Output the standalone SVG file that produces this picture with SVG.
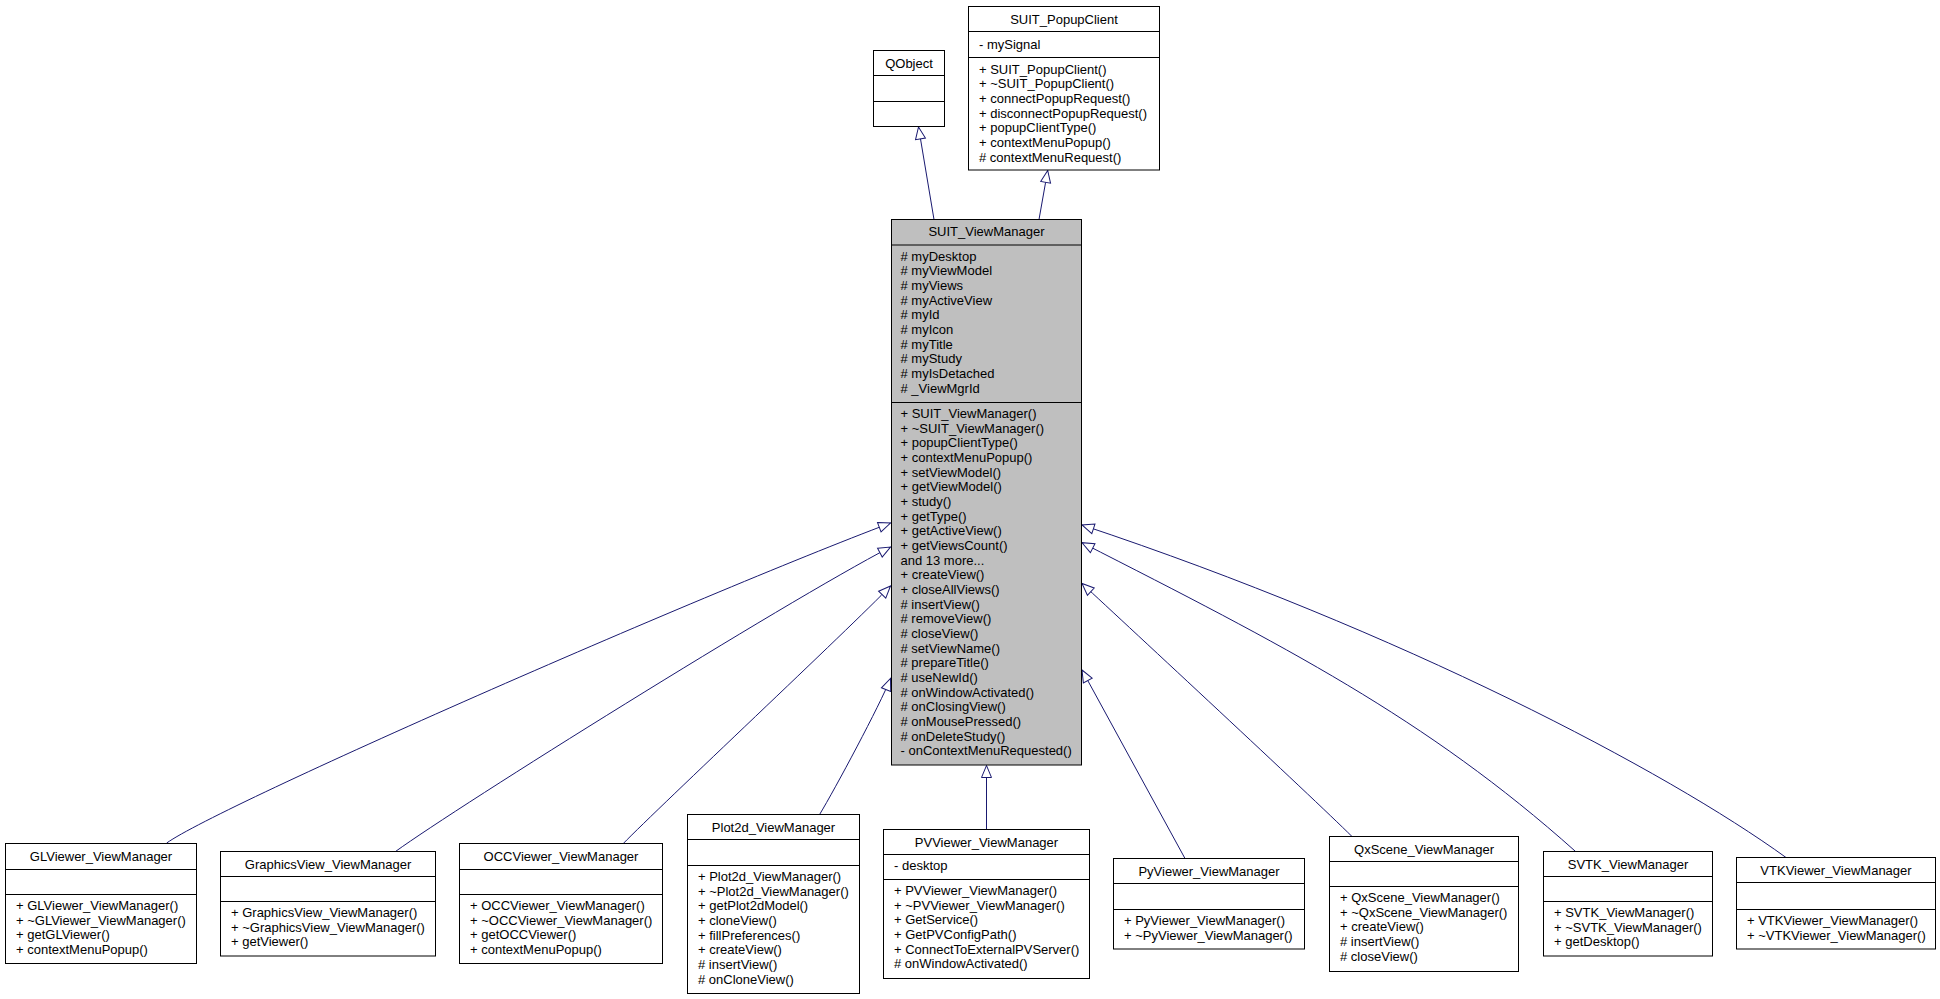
<svg xmlns="http://www.w3.org/2000/svg" width="1940" height="999" viewBox="0 0 1940 999">
<style>
rect.b{fill:#fff;stroke:#000;stroke-width:1}
rect.g{fill:#bfbfbf;stroke:#000;stroke-width:1}
line.d{stroke:#000;stroke-width:1}
text{font-family:"Liberation Sans",Arial,sans-serif;font-size:13px;fill:#000}
text.t{text-anchor:middle}
path.e{fill:none;stroke:#191970;stroke-width:1;marker-end:url(#inh)}
</style>
<defs>
<marker id="inh" markerUnits="userSpaceOnUse" viewBox="0 0 14 12" markerWidth="14" markerHeight="12" refX="12.5" refY="5.5" orient="auto" overflow="visible">
<path d="M0.5,0.5 L12.5,5.5 L0.5,10.5 Z" fill="#fff" stroke="#191970" stroke-width="1"/>
</marker>
</defs>
<g id="connectors">
<path class="e" d="M166.7,843 C220,805 700,595 890.5,523"/>
<path class="e" d="M395.5,851.5 C460,805 780,605 890.5,547"/>
<path class="e" d="M623.3,843.5 C660,806 850,628 890.5,586"/>
<path class="e" d="M819.6,814.5 C835,789 880,705 890.5,678.5"/>
<path class="e" d="M986.5,829.5 L986.5,765.5"/>
<path class="e" d="M1185,858.5 L1082,670"/>
<path class="e" d="M1352,836.5 C1310,795 1130,628 1082,583.5"/>
<path class="e" d="M1575.6,851.5 C1425.6,717.5 1282,644.7 1082,542.7"/>
<path class="e" d="M1786,857.5 C1666,770.7 1402,631.6 1082,525"/>
<path class="e" d="M934,219.5 L918.5,127"/>
<path class="e" d="M1039,219.5 L1047.7,170.5"/>
</g>
<g id="QObject">
<rect class="b" x="873.5" y="50.5" width="71" height="76"/>
<line class="d" x1="873.5" y1="75.5" x2="944.5" y2="75.5"/>
<line class="d" x1="873.5" y1="101.5" x2="944.5" y2="101.5"/>
<text class="t" x="909" y="67.5">QObject</text>
</g>
<g id="SUIT_PopupClient">
<rect class="b" x="968.5" y="6.5" width="191" height="163.5"/>
<line class="d" x1="968.5" y1="31.5" x2="1159.5" y2="31.5"/>
<line class="d" x1="968.5" y1="57.5" x2="1159.5" y2="57.5"/>
<text class="t" x="1064" y="23.5">SUIT_PopupClient</text>
<text x="979" y="49">- mySignal</text>
<text x="979" y="73.5">+ SUIT_PopupClient()</text>
<text x="979" y="88.2">+ ~SUIT_PopupClient()</text>
<text x="979" y="102.8">+ connectPopupRequest()</text>
<text x="979" y="117.5">+ disconnectPopupRequest()</text>
<text x="979" y="132.2">+ popupClientType()</text>
<text x="979" y="146.8">+ contextMenuPopup()</text>
<text x="979" y="161.5"># contextMenuRequest()</text>
</g>
<g id="SUIT_ViewManager">
<rect class="g" x="891.5" y="219.5" width="190" height="545.5"/>
<line class="d" x1="891.5" y1="245" x2="1081.5" y2="245"/>
<line class="d" x1="891.5" y1="402.5" x2="1081.5" y2="402.5"/>
<text class="t" x="986.5" y="236">SUIT_ViewManager</text>
<text x="900.5" y="260.5"># myDesktop</text>
<text x="900.5" y="275.2"># myViewModel</text>
<text x="900.5" y="289.8"># myViews</text>
<text x="900.5" y="304.5"># myActiveView</text>
<text x="900.5" y="319.2"># myId</text>
<text x="900.5" y="333.8"># myIcon</text>
<text x="900.5" y="348.5"># myTitle</text>
<text x="900.5" y="363.2"># myStudy</text>
<text x="900.5" y="377.8"># myIsDetached</text>
<text x="900.5" y="392.5"># _ViewMgrId</text>
<text x="900.5" y="418">+ SUIT_ViewManager()</text>
<text x="900.5" y="432.7">+ ~SUIT_ViewManager()</text>
<text x="900.5" y="447.3">+ popupClientType()</text>
<text x="900.5" y="462">+ contextMenuPopup()</text>
<text x="900.5" y="476.7">+ setViewModel()</text>
<text x="900.5" y="491.3">+ getViewModel()</text>
<text x="900.5" y="506">+ study()</text>
<text x="900.5" y="520.7">+ getType()</text>
<text x="900.5" y="535.3">+ getActiveView()</text>
<text x="900.5" y="550">+ getViewsCount()</text>
<text x="900.5" y="564.7">and 13 more...</text>
<text x="900.5" y="579.3">+ createView()</text>
<text x="900.5" y="594">+ closeAllViews()</text>
<text x="900.5" y="608.7"># insertView()</text>
<text x="900.5" y="623.3"># removeView()</text>
<text x="900.5" y="638"># closeView()</text>
<text x="900.5" y="652.7"># setViewName()</text>
<text x="900.5" y="667.3"># prepareTitle()</text>
<text x="900.5" y="682"># useNewId()</text>
<text x="900.5" y="696.7"># onWindowActivated()</text>
<text x="900.5" y="711.3"># onClosingView()</text>
<text x="900.5" y="726"># onMousePressed()</text>
<text x="900.5" y="740.7"># onDeleteStudy()</text>
<text x="900.5" y="755.3">- onContextMenuRequested()</text>
</g>
<g id="GLViewer_ViewManager">
<rect class="b" x="5.5" y="843.5" width="191" height="120"/>
<line class="d" x1="5.5" y1="869.5" x2="196.5" y2="869.5"/>
<line class="d" x1="5.5" y1="894.5" x2="196.5" y2="894.5"/>
<text class="t" x="101" y="860.5">GLViewer_ViewManager</text>
<text x="16" y="910">+ GLViewer_ViewManager()</text>
<text x="16" y="924.7">+ ~GLViewer_ViewManager()</text>
<text x="16" y="939.3">+ getGLViewer()</text>
<text x="16" y="954">+ contextMenuPopup()</text>
</g>
<g id="GraphicsView_ViewManager">
<rect class="b" x="220.5" y="851.5" width="215" height="104.5"/>
<line class="d" x1="220.5" y1="876.5" x2="435.5" y2="876.5"/>
<line class="d" x1="220.5" y1="901.5" x2="435.5" y2="901.5"/>
<text class="t" x="328" y="868.5">GraphicsView_ViewManager</text>
<text x="231" y="917">+ GraphicsView_ViewManager()</text>
<text x="231" y="931.7">+ ~GraphicsView_ViewManager()</text>
<text x="231" y="946.3">+ getViewer()</text>
</g>
<g id="OCCViewer_ViewManager">
<rect class="b" x="459.5" y="843.5" width="203" height="120"/>
<line class="d" x1="459.5" y1="869.5" x2="662.5" y2="869.5"/>
<line class="d" x1="459.5" y1="894.5" x2="662.5" y2="894.5"/>
<text class="t" x="561" y="860.5">OCCViewer_ViewManager</text>
<text x="470" y="910">+ OCCViewer_ViewManager()</text>
<text x="470" y="924.7">+ ~OCCViewer_ViewManager()</text>
<text x="470" y="939.3">+ getOCCViewer()</text>
<text x="470" y="954">+ contextMenuPopup()</text>
</g>
<g id="Plot2d_ViewManager">
<rect class="b" x="687.5" y="814.5" width="172" height="179"/>
<line class="d" x1="687.5" y1="839.5" x2="859.5" y2="839.5"/>
<line class="d" x1="687.5" y1="865.5" x2="859.5" y2="865.5"/>
<text class="t" x="773.5" y="831.5">Plot2d_ViewManager</text>
<text x="698" y="881">+ Plot2d_ViewManager()</text>
<text x="698" y="895.7">+ ~Plot2d_ViewManager()</text>
<text x="698" y="910.3">+ getPlot2dModel()</text>
<text x="698" y="925">+ cloneView()</text>
<text x="698" y="939.7">+ fillPreferences()</text>
<text x="698" y="954.3">+ createView()</text>
<text x="698" y="969"># insertView()</text>
<text x="698" y="983.7"># onCloneView()</text>
</g>
<g id="PVViewer_ViewManager">
<rect class="b" x="883.5" y="829.5" width="206" height="149"/>
<line class="d" x1="883.5" y1="854.5" x2="1089.5" y2="854.5"/>
<line class="d" x1="883.5" y1="879.5" x2="1089.5" y2="879.5"/>
<text class="t" x="986.5" y="846.5">PVViewer_ViewManager</text>
<text x="894" y="870">- desktop</text>
<text x="894" y="895">+ PVViewer_ViewManager()</text>
<text x="894" y="909.7">+ ~PVViewer_ViewManager()</text>
<text x="894" y="924.3">+ GetService()</text>
<text x="894" y="939">+ GetPVConfigPath()</text>
<text x="894" y="953.7">+ ConnectToExternalPVServer()</text>
<text x="894" y="968.3"># onWindowActivated()</text>
</g>
<g id="PyViewer_ViewManager">
<rect class="b" x="1113.5" y="858.5" width="191" height="90.5"/>
<line class="d" x1="1113.5" y1="883.5" x2="1304.5" y2="883.5"/>
<line class="d" x1="1113.5" y1="909.5" x2="1304.5" y2="909.5"/>
<text class="t" x="1209" y="875.5">PyViewer_ViewManager</text>
<text x="1124" y="925">+ PyViewer_ViewManager()</text>
<text x="1124" y="939.7">+ ~PyViewer_ViewManager()</text>
</g>
<g id="QxScene_ViewManager">
<rect class="b" x="1329.5" y="836.5" width="189" height="135"/>
<line class="d" x1="1329.5" y1="861.5" x2="1518.5" y2="861.5"/>
<line class="d" x1="1329.5" y1="886.5" x2="1518.5" y2="886.5"/>
<text class="t" x="1424" y="853.5">QxScene_ViewManager</text>
<text x="1340" y="902">+ QxScene_ViewManager()</text>
<text x="1340" y="916.7">+ ~QxScene_ViewManager()</text>
<text x="1340" y="931.3">+ createView()</text>
<text x="1340" y="946"># insertView()</text>
<text x="1340" y="960.7"># closeView()</text>
</g>
<g id="SVTK_ViewManager">
<rect class="b" x="1543.5" y="851.5" width="169" height="104.5"/>
<line class="d" x1="1543.5" y1="876.5" x2="1712.5" y2="876.5"/>
<line class="d" x1="1543.5" y1="901.5" x2="1712.5" y2="901.5"/>
<text class="t" x="1628" y="868.5">SVTK_ViewManager</text>
<text x="1554" y="917">+ SVTK_ViewManager()</text>
<text x="1554" y="931.7">+ ~SVTK_ViewManager()</text>
<text x="1554" y="946.3">+ getDesktop()</text>
</g>
<g id="VTKViewer_ViewManager">
<rect class="b" x="1736.5" y="857.5" width="199" height="91.5"/>
<line class="d" x1="1736.5" y1="882.5" x2="1935.5" y2="882.5"/>
<line class="d" x1="1736.5" y1="909.5" x2="1935.5" y2="909.5"/>
<text class="t" x="1836" y="874.5">VTKViewer_ViewManager</text>
<text x="1747" y="925">+ VTKViewer_ViewManager()</text>
<text x="1747" y="939.7">+ ~VTKViewer_ViewManager()</text>
</g>
</svg>
